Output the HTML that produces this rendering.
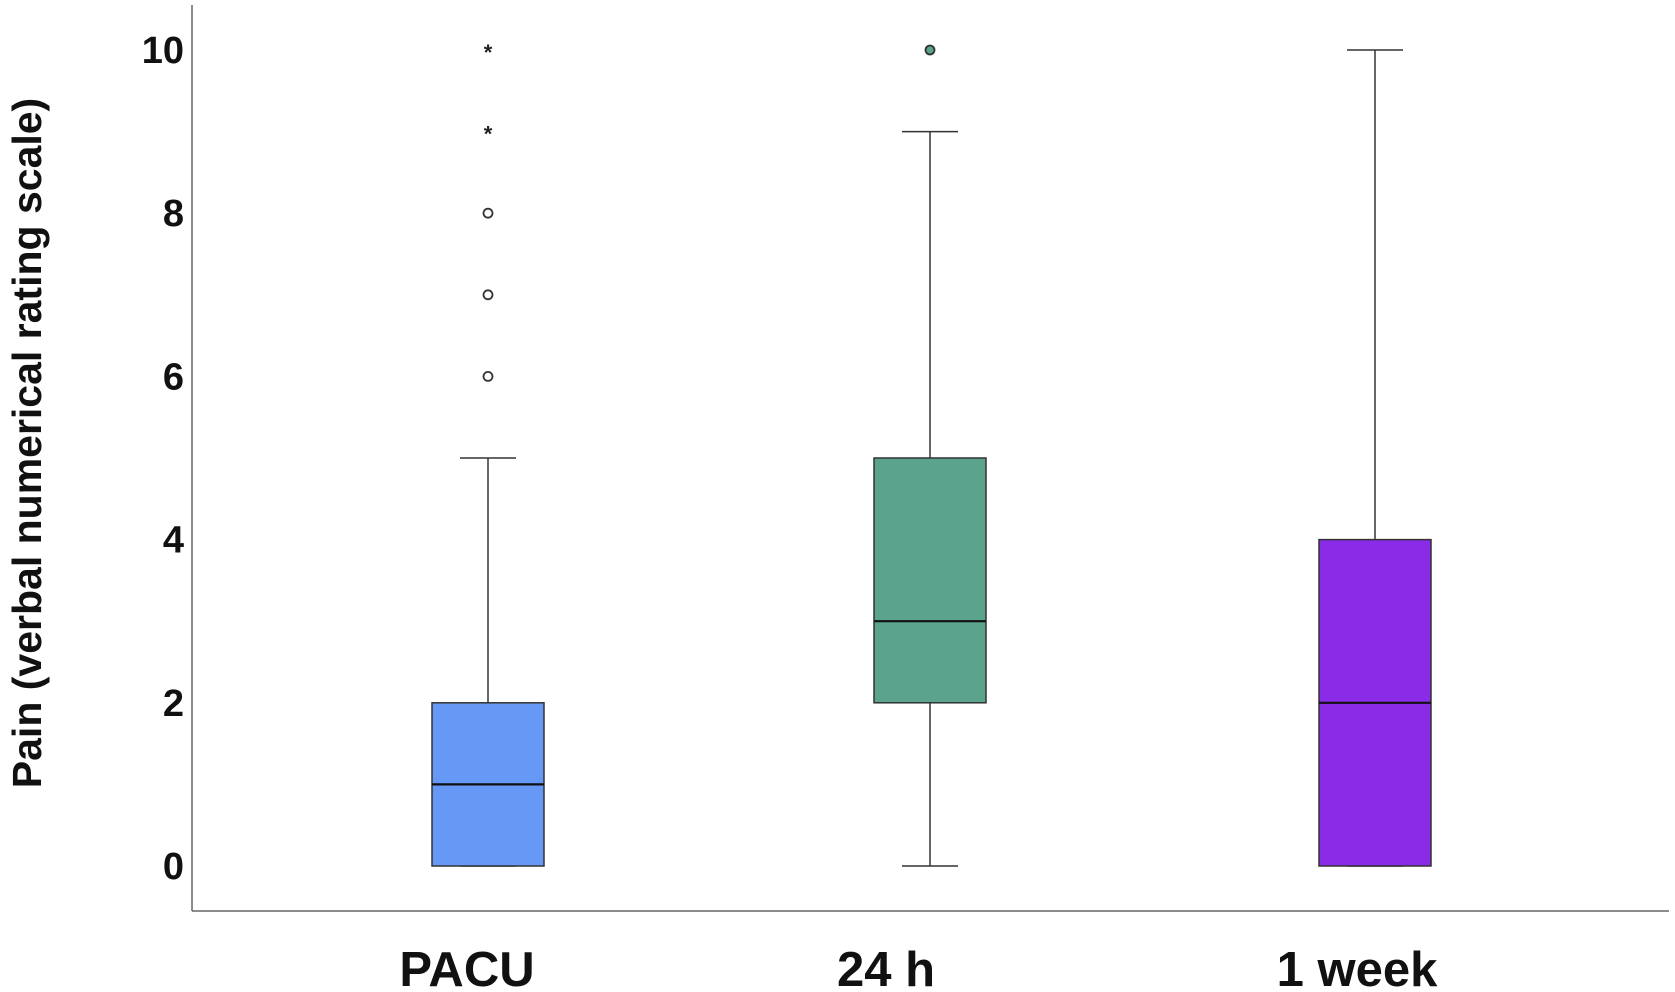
<!DOCTYPE html>
<html><head><meta charset="utf-8"><style>
body{margin:0;background:#fff;}
svg{display:block;font-family:"Liberation Sans",sans-serif;}
</style></head><body>
<svg id="chart" width="1675" height="992" viewBox="0 0 1675 992" xmlns="http://www.w3.org/2000/svg"></svg>
<script>
const categories=["PACU","24 h","1 week"];
const mins=[0,0,0];
const q1s=[0,2,0];
const medians=[1,3,2];
const q3s=[2,5,4];
const maxs=[5,9,10];
const circleOutliers=[[6,7,8],[10],[]];
const starOutliers=[[9,10],[],[]];
const colors=["#6699f5","#5ba38c","#8a2be8"];
const yTicks=[0,2,4,6,8,10];

const svg=document.getElementById('chart');
const NS="http://www.w3.org/2000/svg";
const y0=866,pxPer=81.6;
function yS(v){return y0-v*pxPer;}
const centers=[488,930,1375];
const labelX=[467,886,1357];
function xS(i){return centers[i];}
const boxW=112,capW=56;
function mk(tag,attrs,name){const e=document.createElementNS(NS,tag);for(const k in attrs)e.setAttribute(k,attrs[k]);


svg.appendChild(e);return e;}

mk('line',{x1:192,y1:5,x2:192,y2:911,stroke:'#666','stroke-width':1.5},'y-axis');
mk('line',{x1:192,y1:911,x2:1669,y2:911,stroke:'#666','stroke-width':1.5},'x-axis');
yTicks.forEach(t=>{const e=mk('text',{x:184,y:yS(t)+13,'text-anchor':'end','font-size':38,'font-weight':'bold',fill:'#111'},'y-tick-label');e.textContent=t;});
const yt=mk('text',{x:0,y:0,transform:'translate(41,443) rotate(-90)','text-anchor':'middle','font-size':41,'font-weight':'bold',fill:'#111'},'y-axis-title');
yt.textContent='Pain (verbal numerical rating scale)';

categories.forEach((c,i)=>{
  const cx=xS(i);
  mk('line',{x1:cx,y1:yS(q3s[i]),x2:cx,y2:yS(maxs[i]),stroke:'#333','stroke-width':1.5},'upper-whisker');
  mk('line',{x1:cx,y1:yS(q1s[i]),x2:cx,y2:yS(mins[i]),stroke:'#333','stroke-width':1.5},'lower-whisker');
  mk('line',{x1:cx-capW/2,y1:yS(maxs[i]),x2:cx+capW/2,y2:yS(maxs[i]),stroke:'#333','stroke-width':1.5},'whisker-cap-max');
  mk('line',{x1:cx-capW/2,y1:yS(mins[i]),x2:cx+capW/2,y2:yS(mins[i]),stroke:'#333','stroke-width':1.5},'whisker-cap-min');
  mk('rect',{x:cx-boxW/2,y:yS(q3s[i]),width:boxW,height:Math.max(1,yS(q1s[i])-yS(q3s[i])),fill:colors[i],stroke:'#333','stroke-width':1.5},'box-'+c.replace(/\s/g,'-').toLowerCase());
  mk('line',{x1:cx-boxW/2,y1:yS(medians[i]),x2:cx+boxW/2,y2:yS(medians[i]),stroke:'#111','stroke-width':2.2},'median-line');
  circleOutliers[i].forEach(v=>{mk('circle',{cx:cx,cy:yS(v),r:4.5,fill:i===1?colors[i]:'#fff',stroke:'#333','stroke-width':1.8},'outlier-point');});
  starOutliers[i].forEach(v=>{const s=mk('text',{x:cx,y:yS(v)+10,'text-anchor':'middle','font-size':22,'font-weight':'bold',fill:'#222'},'extreme-outlier');s.textContent='*';});
  const l=mk('text',{x:labelX[i],y:986,'text-anchor':'middle','font-size':49,'font-weight':'bold',fill:'#111'},'x-tick-label');l.textContent=c;
});
</script>
</body></html>
